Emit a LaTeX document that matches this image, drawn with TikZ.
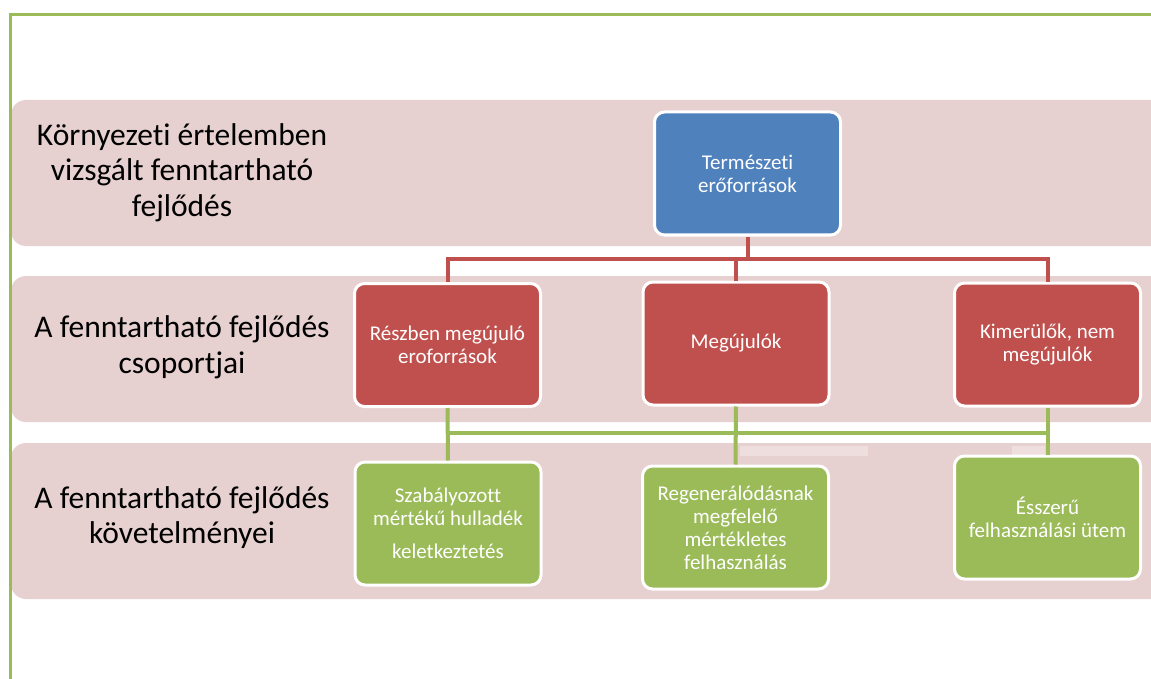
\documentclass[tikz,border=0pt]{standalone}
\usepackage{fontspec}
\setmainfont{Carlito}[Ligatures={NoCommon}]
\definecolor{bandpink}{RGB}{231,208,208}
\definecolor{lightpink}{RGB}{238,222,222}
\definecolor{oblue}{RGB}{79,129,189}
\definecolor{ored}{RGB}{192,80,77}
\definecolor{ogreen}{RGB}{155,187,89}
\tikzset{
  band/.style={fill=bandpink, rounded corners=15pt},
  box/.style={rounded corners=10pt, draw=white, line width=3pt, minimum width=186pt, minimum height=123pt, text=white, align=center, inner sep=2pt, font=\fontsize{21}{23}\selectfont},
  bluebox/.style={box, fill=oblue},
  redbox/.style={box, fill=ored},
  greenbox/.style={box, fill=ogreen},
  lab/.style={align=center, text=black, inner sep=0pt, font=\fontsize{31.5}{35.5}\selectfont},
  rline/.style={draw=ored, line width=4pt},
  gline/.style={draw=ogreen, line width=4pt},
  frameline/.style={draw=ogreen, line width=3pt}
}
\begin{document}
\begin{tikzpicture}[x=1pt,y=-1pt]
\useasboundingbox[fill=white] (0,0) rectangle (1151,679);
\begin{scope}
\clip (0,0) rectangle (1151,679);
\fill[band] (11,100) rectangle (1180,246);
\fill[band] (11,276) rectangle (1180,422);
\fill[band] (11,443) rectangle (1180,599);
\fill[lightpink] (740,446) rectangle (868,456);
\fill[lightpink] (1012,446) rectangle (1045,455);
\draw[frameline] (10,679) -- (10,14.5) -- (1151,14.5);
\end{scope}

% left labels
\node[lab] (l1) at (182,172.5) {Környezeti értelemben\\vizsgált fenntartható\\fejlődés};
\node[lab] (l2) at (182,347.5) {A fenntartható fejlődés\\csoportjai};
\node[lab] (l3) at (182,517.5) {A fenntartható fejlődés\\követelményei};

% boxes
\node[bluebox] (top) at (747.5,173.5) {Természeti\\erőforrások};
\node[redbox] (rb) at (447.5,345) {Részben megújuló\\eroforrások};
\node[redbox] (mb) at (736,343.5) {Megújulók};
\node[redbox] (kb) at (1047.5,344.5) {Kimerülők, nem\\megújulók};
\node[greenbox] (sb) at (448,523.5) {Szabályozott\\mértékű hulladék\\[10pt]keletkeztetés};
\node[greenbox] (fb) at (735.5,527.5) {Regenerálódásnak\\megfelelő\\mértékletes\\felhasználás};
\node[greenbox] (eb) at (1047.5,517.5) {Ésszerű\\felhasználási ütem};

% red connectors
\draw[rline] (top.south) -- (top.south |- 0,259);
\draw[rline] (rb.north) -- (rb.north |- 0,259) -- (kb.north |- 0,259) -- (kb.north);
\draw[rline] (mb.north) -- (mb.north |- 0,259);

% green connectors
\draw[gline] (rb.south) -- (sb.north);
\draw[gline] (mb.south) -- (fb.north);
\draw[gline] (kb.south) -- (eb.north);
\draw[gline] (rb.south |- 0,433) -- (kb.south |- 0,433);
\end{tikzpicture}
\end{document}
